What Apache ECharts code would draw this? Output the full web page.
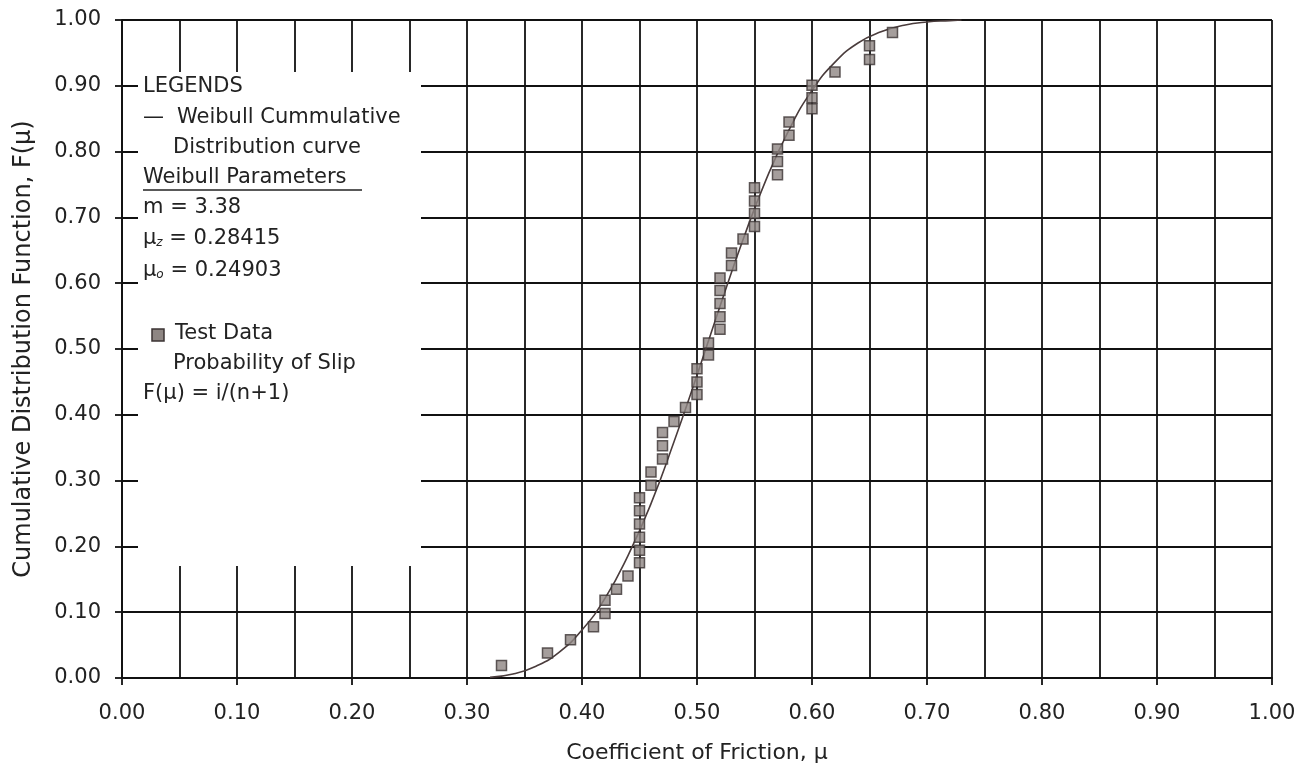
<!DOCTYPE html>
<html>
<head>
<meta charset="utf-8">
<title>Weibull CDF - Coefficient of Friction</title>
<script src="https://cdn.jsdelivr.net/npm/echarts@6/dist/echarts.min.js"></script>
<style>
  * { margin: 0; padding: 0; }
  html, body { width: 1314px; height: 774px; background: #fff; }
  #main { width: 1314px; height: 774px; }
</style>
</head>
<body>
<div id="main"></div>
<script>
// test data, F(mu) = i/(n+1)
var testX = [0.33, 0.37, 0.39, 0.41, 0.42, 0.42, 0.43, 0.44, 0.45, 0.45,
             0.45, 0.45, 0.45, 0.45, 0.46, 0.46, 0.47, 0.47, 0.47, 0.48,
             0.49, 0.50, 0.50, 0.50, 0.51, 0.51, 0.52, 0.52, 0.52, 0.52,
             0.52, 0.53, 0.53, 0.54, 0.55, 0.55, 0.55, 0.55, 0.57, 0.57,
             0.57, 0.58, 0.58, 0.60, 0.60, 0.60, 0.62, 0.65, 0.65, 0.67];
var testY = [0.019, 0.038, 0.058, 0.078, 0.098, 0.118, 0.135, 0.155, 0.175, 0.194,
             0.214, 0.234, 0.254, 0.274, 0.293, 0.313, 0.333, 0.353, 0.373, 0.390,
             0.411, 0.431, 0.450, 0.470, 0.491, 0.509, 0.530, 0.549, 0.569, 0.589,
             0.608, 0.627, 0.646, 0.667, 0.686, 0.706, 0.725, 0.745, 0.765, 0.785,
             0.804, 0.825, 0.845, 0.865, 0.882, 0.901, 0.921, 0.940, 0.961, 0.981];

// weibull curve
var curveX = [0.32, 0.34, 0.36, 0.38, 0.40, 0.42, 0.44, 0.46, 0.48, 0.50, 0.52,
              0.54, 0.56, 0.58, 0.60, 0.62, 0.64, 0.66, 0.68, 0.70, 0.72, 0.73];
var curveY = [0.001, 0.006, 0.018, 0.039, 0.073, 0.121, 0.186, 0.265, 0.359, 0.460, 0.565,
              0.666, 0.757, 0.833, 0.893, 0.936, 0.965, 0.982, 0.992, 0.997, 0.999, 1.000];

// legend lines
var legendLines = [
  'LEGENDS',
  '\u2014',
  'Weibull Cummulative',
  'Distribution curve',
  'Weibull Parameters',
  'm = 3.38',
  '{mu|\u03bc}{sub|z} = 0.28415',
  '{mu|\u03bc}{sub|o} = 0.24903',
  'Test Data',
  'Probability of Slip',
  'F(\u03bc) = i/(n+1)'
];

var FONT = '"DejaVu Sans", Verdana, sans-serif';
var INK = '#222';
var gridLine = { color: '#111', width: 1.8 };

var testData = testX.map(function (x, i) { return [x, testY[i]]; });
var curveData = curveX.map(function (x, i) { return [x, curveY[i]]; });

function fmt(v) { return v.toFixed(2); }

var chart = echarts.init(document.getElementById('main'));

// text for the legend block drawn on white
var legendPos = [
  [143, 87], [143, 118], [177, 118], [173, 148], [143, 178], [143, 208],
  [143, 239], [143, 271], [175, 334], [173, 364], [143, 394]
];
var graphics = [
  {
    type: 'rect', z: 1,
    shape: { x: 138, y: 72, width: 283, height: 494 },
    style: { fill: '#fff' }
  }
];
legendLines.forEach(function (t, i) {
  graphics.push({
    type: 'text', z: 3,
    x: legendPos[i][0], y: legendPos[i][1],
    style: {
      text: t,
      fill: INK,
      font: '21px ' + FONT,
      verticalAlign: 'middle',
      rich: {
        mu: { fontSize: 21, fontFamily: FONT, fill: INK },
        sub: { fontSize: 12, fontFamily: FONT, fill: INK, fontStyle: 'italic', padding: [8, 0, 0, 0] }
      }
    }
  });
});
// underline under "Weibull Parameters"
graphics.push({
  type: 'line', z: 3,
  shape: { x1: 143, y1: 190, x2: 362, y2: 190 },
  style: { stroke: INK, lineWidth: 1.4 }
});
// square for test data
graphics.push({
  type: 'rect', z: 3,
  shape: { x: 152, y: 329, width: 12, height: 12 },
  style: { fill: '#8e8683', stroke: '#3b3333', lineWidth: 1.5 }
});

chart.setOption({
  backgroundColor: '#fff',
  animation: false,
  grid: { left: 122, right: 42, top: 20, bottom: 96, outerBoundsMode: 'none' },
  xAxis: {
    type: 'value',
    min: 0, max: 1, interval: 0.1,
    name: 'Coefficient of Friction, \u03bc',
    nameLocation: 'middle',
    nameGap: 64,
    nameTextStyle: { fontFamily: FONT, fontSize: 22, color: INK },
    axisLine: { show: true, lineStyle: gridLine },
    axisTick: { show: true, length: 7, lineStyle: gridLine },
    axisLabel: { formatter: fmt, margin: 25, fontFamily: FONT, fontSize: 21, color: INK },
    splitLine: { show: true, lineStyle: gridLine },
    minorTick: { show: false, splitNumber: 2 },
    minorSplitLine: { show: true, lineStyle: gridLine }
  },
  yAxis: {
    type: 'value',
    min: 0, max: 1, interval: 0.1,
    name: 'Cumulative Distribution Function, F(\u03bc)',
    nameLocation: 'middle',
    nameGap: 86,
    nameTextStyle: { fontFamily: FONT, fontSize: 24, color: INK },
    axisLine: { show: true, lineStyle: gridLine },
    axisTick: { show: true, length: 7, lineStyle: gridLine },
    axisLabel: { formatter: fmt, margin: 21, fontFamily: FONT, fontSize: 21, color: INK },
    splitLine: { show: true, lineStyle: gridLine }
  },
  graphic: graphics,
  series: [
    {
      name: 'Weibull Cummulative Distribution curve',
      type: 'line',
      data: curveData,
      smooth: true,
      showSymbol: false,
      z: 4,
      lineStyle: { color: '#4a3c3c', width: 1.6 }
    },
    {
      name: 'Test Data',
      type: 'scatter',
      data: testData,
      symbol: 'rect',
      symbolSize: 10,
      z: 5,
      itemStyle: { color: '#8e8683', borderColor: '#3b3333', borderWidth: 1.5 }
    }
  ]
});
</script>
</body>
</html>
